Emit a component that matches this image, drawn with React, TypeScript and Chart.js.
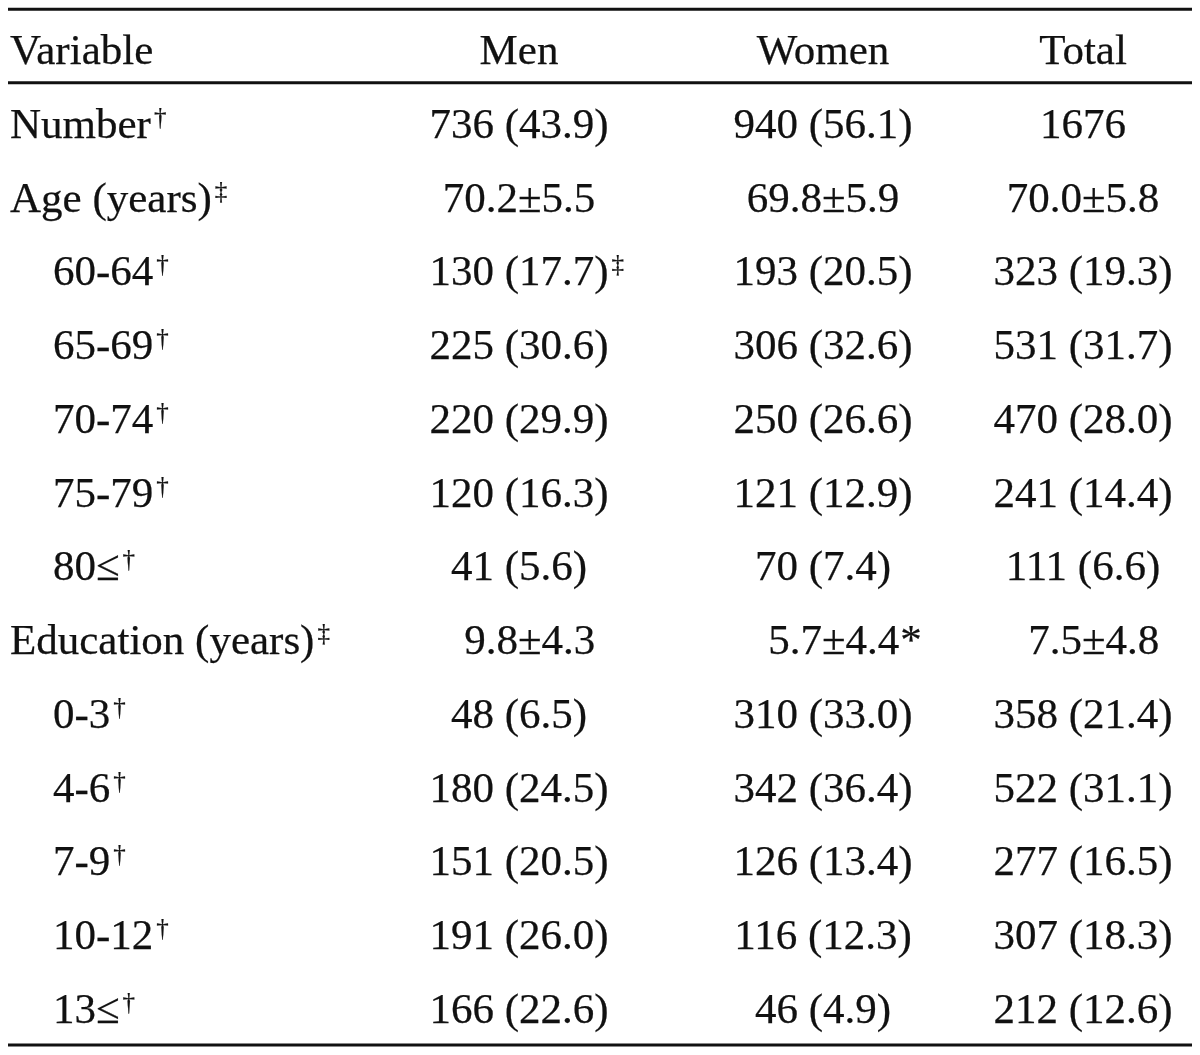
import React, { useEffect, useRef } from "react";
import { Chart, registerables } from "chart.js";

Chart.register(...registerables);

// ---------- data ----------
const headers = ["Variable", "Men", "Women", "Total"];
const rowLabels = [
  "Number", "Age (years)", "60-64", "65-69", "70-74", "75-79", "80≤",
  "Education (years)", "0-3", "4-6", "7-9", "10-12", "13≤",
];
const rowLabelMarks = ["†", "‡", "†", "†", "†", "†", "†", "‡", "†", "†", "†", "†", "†"];
const rowLevel = [0, 0, 1, 1, 1, 1, 1, 0, 1, 1, 1, 1, 1];
const menValues = [
  "736 (43.9)", "70.2±5.5", "130 (17.7)", "225 (30.6)", "220 (29.9)", "120 (16.3)", "41 (5.6)",
  "9.8±4.3", "48 (6.5)", "180 (24.5)", "151 (20.5)", "191 (26.0)", "166 (22.6)",
];
const menMarks = ["", "", "‡", "", "", "", "", "", "", "", "", "", ""];
const womenValues = [
  "940 (56.1)", "69.8±5.9", "193 (20.5)", "306 (32.6)", "250 (26.6)", "121 (12.9)", "70 (7.4)",
  "5.7±4.4", "310 (33.0)", "342 (36.4)", "126 (13.4)", "116 (12.3)", "46 (4.9)",
];
const womenMarks = ["", "", "", "", "", "", "", "*", "", "", "", "", ""];
const totalValues = [
  "1676", "70.0±5.8", "323 (19.3)", "531 (31.7)", "470 (28.0)", "241 (14.4)", "111 (6.6)",
  "7.5±4.8", "358 (21.4)", "522 (31.1)", "277 (16.5)", "307 (18.3)", "212 (12.6)",
];
const totalMarks = ["", "", "", "", "", "", "", "", "", "", "", "", ""];

// ---------- layout ----------
const W = 1200;
const H = 1055;
const COL_X = [10, 519, 823, 1083];
const INDENT_X = 53;
const ROW_MIN = -0.8712;
const ROW_MAX = 13.434;
const RULES = [
  { y: -0.745, w: 3 },
  { y: 0.2515, w: 3 },
  { y: 13.298, w: 3 },
];
const FONT = "43px 'Liberation Serif', 'Times New Roman', serif";
const SUP_FONT = "25px 'Liberation Serif', 'Times New Roman', serif";
const INK = "#111111";

type Cell = { text: string; mark: string; align: "left" | "center"; indent?: boolean };

const columnCells: Cell[][] = [
  [{ text: headers[0], mark: "", align: "left" }].concat(
    rowLabels.map((t, i) => ({ text: t, mark: rowLabelMarks[i], align: "left" as const, indent: rowLevel[i] === 1 }))
  ) as Cell[],
  [{ text: headers[1], mark: "", align: "center" } as Cell].concat(
    menValues.map((t, i) => ({ text: t, mark: menMarks[i], align: "center" as const }))
  ),
  [{ text: headers[2], mark: "", align: "center" } as Cell].concat(
    womenValues.map((t, i) => ({ text: t, mark: womenMarks[i], align: "center" as const }))
  ),
  [{ text: headers[3], mark: "", align: "center" } as Cell].concat(
    totalValues.map((t, i) => ({ text: t, mark: totalMarks[i], align: "center" as const }))
  ),
];

function paint(ctx: CanvasRenderingContext2D, text: string, x: number, y: number) {
  ctx.fillText(text, x, y);
  ctx.strokeText(text, x, y);
}

const tablePlugin = {
  id: "tableText",
  afterDatasetsDraw(chart: any) {
    const ctx: CanvasRenderingContext2D = chart.ctx;
    const yScale = chart.scales.y;
    ctx.save();
    // rules
    ctx.strokeStyle = INK;
    RULES.forEach((r) => {
      const py = yScale.getPixelForValue(r.y);
      ctx.lineWidth = r.w;
      ctx.beginPath();
      ctx.moveTo(8, py);
      ctx.lineTo(1192, py);
      ctx.stroke();
    });
    ctx.fillStyle = INK;
    ctx.strokeStyle = INK;
    ctx.lineWidth = 0.25;
    ctx.textBaseline = "alphabetic";
    chart.data.datasets.forEach((ds: any, di: number) => {
      const meta = chart.getDatasetMeta(di);
      const cells = columnCells[di];
      meta.data.forEach((pt: any, ri: number) => {
        const cell = cells[ri];
        ctx.font = FONT;
        const x = pt.x;
        const y = pt.y;
        const w = ctx.measureText(cell.text).width;
        let startX: number;
        if (cell.align === "left") {
          startX = cell.indent ? INDENT_X : x;
        } else {
          // mean±SD with a single-digit integer part is padded by one figure width
          let pad = 0;
          if (/^\d\./.test(cell.text)) pad = ctx.measureText("0").width;
          startX = x - (w + pad) / 2 + pad;
        }
        ctx.textAlign = "left";
        paint(ctx, cell.text, startX, y);
        if (cell.mark) {
          const mx = startX + w + (cell.mark === "*" ? 1 : 3);
          if (cell.mark === "*") {
            ctx.font = FONT;
            paint(ctx, cell.mark, mx, y);
          } else {
            ctx.font = SUP_FONT;
            paint(ctx, cell.mark, mx, y - 13);
          }
        }
      });
    });
    ctx.restore();
  },
};

export default function App() {
  const ref = useRef<HTMLCanvasElement | null>(null);
  useEffect(() => {
    if (!ref.current) return;
    const rowsY = [0].concat(rowLabels.map((_, i) => i + 1));
    const datasets = COL_X.map((cx, ci) => ({
      label: headers[ci],
      data: rowsY.map((ry) => ({ x: cx, y: ry })),
      pointRadius: 0,
      showLine: false,
    }));
    const chart = new Chart(ref.current, {
      type: "scatter",
      data: { datasets },
      options: {
        animation: false,
        responsive: false,
        devicePixelRatio: 1,
        layout: { padding: 0 },
        plugins: { legend: { display: false }, tooltip: { enabled: false } },
        events: [],
        scales: {
          x: { type: "linear", min: 0, max: W, display: false },
          y: { type: "linear", min: ROW_MIN, max: ROW_MAX, reverse: true, display: false },
        },
      },
      plugins: [tablePlugin],
    });
    return () => chart.destroy();
  }, []);
  return (
    <div style={{ position: "absolute", left: 0, top: 0, width: W, height: H, background: "#fff" }}>
      <canvas ref={ref} width={W} height={H} />
    </div>
  );
}
